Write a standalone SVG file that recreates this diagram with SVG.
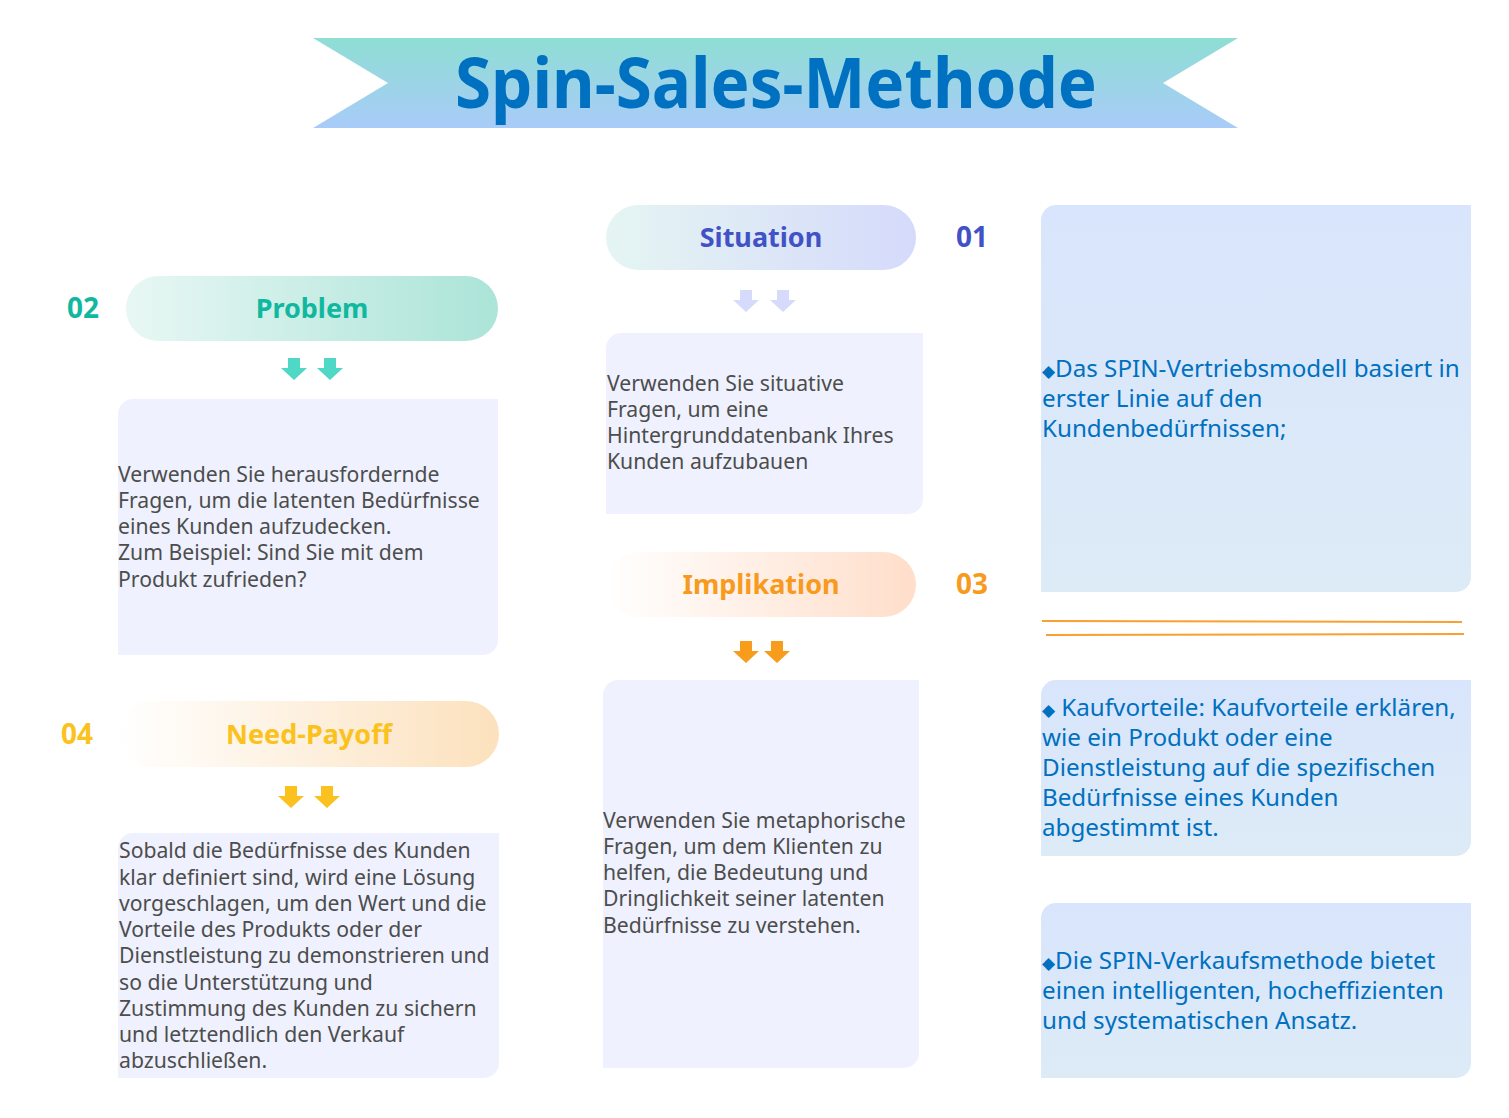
<svg xmlns="http://www.w3.org/2000/svg" width="1509" height="1118" viewBox="0 0 1509 1118">
<defs>
<linearGradient id="gBanner" x1="0" y1="0" x2="0" y2="1"><stop offset="0" stop-color="#8EDED3"/><stop offset="1" stop-color="#A9CBF9"/></linearGradient>
<linearGradient id="gSit" x1="0" y1="0" x2="1" y2="0"><stop offset="0" stop-color="#E5F5F2"/><stop offset="1" stop-color="#D5DAFB"/></linearGradient>
<linearGradient id="gProb" x1="0" y1="0" x2="1" y2="0"><stop offset="0" stop-color="#E8F7F4"/><stop offset="1" stop-color="#ABE4D8"/></linearGradient>
<linearGradient id="gImp" x1="0" y1="0" x2="1" y2="0"><stop offset="0" stop-color="#FFFFFF"/><stop offset="1" stop-color="#FFDECA"/></linearGradient>
<linearGradient id="gNeed" x1="0" y1="0" x2="1" y2="0"><stop offset="0" stop-color="#FFFFFF"/><stop offset="1" stop-color="#FCE1BD"/></linearGradient>
<linearGradient id="gRight" x1="0" y1="0" x2="0" y2="1"><stop offset="0" stop-color="#D8E5FC"/><stop offset="1" stop-color="#DDEBF7"/></linearGradient>
<path id="arrow" d="M-6 0 H6 V10 H13 L0 22 L-13 10 H-6 Z"/>
</defs>
<style>
.title{font-family:"Noto Sans","Open Sans",sans-serif;font-weight:700;font-size:70px;fill:#0070C0}
.pill{font-family:"Noto Sans","Open Sans",sans-serif;font-weight:700;font-size:27px;text-anchor:middle}
.num{font-family:"Noto Sans","Open Sans",sans-serif;font-weight:700;font-size:28px}
.body{font-family:"Noto Sans","Open Sans",sans-serif;font-size:21.2px;fill:#4D4D4D}
.rbody{font-family:"Noto Sans","Open Sans",sans-serif;font-size:24.2px;fill:#0070C0}
.box{fill:#EFF2FE}
.rbox{fill:url(#gRight)}
.dia{font-size:17px}
</style>
<rect width="1509" height="1118" fill="#FFFFFF"/>

<g id="title">
<polygon points="313,38 1238,38 1163,83 1238,128 313,128 388,83" fill="url(#gBanner)"/>
<text class="title" x="776" y="108" text-anchor="middle" textLength="642" lengthAdjust="spacingAndGlyphs">Spin-Sales-Methode</text>
</g>

<g id="situation">
<rect x="606" y="205" width="310" height="65" rx="32.5" fill="url(#gSit)"/>
<text class="pill" x="761" y="247" fill="#4152C6">Situation</text>
<text class="num" x="956" y="247" fill="#4152C6">01</text>
</g>
<g id="situation-text">
<path class="box" d="M621 333 H923 V499 A15 15 0 0 1 908 514 H606 V348 A15 15 0 0 1 621 333 Z"/>
<text class="body" x="607" y="391">Verwenden Sie situative</text>
<text class="body" x="607" y="417">Fragen, um eine</text>
<text class="body" x="607" y="443">Hintergrunddatenbank Ihres</text>
<text class="body" x="607" y="469">Kunden aufzubauen</text>
</g>

<g id="problem">
<rect x="126" y="276" width="372" height="65" rx="32.5" fill="url(#gProb)"/>
<text class="pill" x="312" y="318" fill="#10B89F">Problem</text>
<text class="num" x="67" y="318" fill="#10B89F">02</text>
</g>
<g id="problem-text">
<path class="box" d="M133 399 H498 V640 A15 15 0 0 1 483 655 H118 V414 A15 15 0 0 1 133 399 Z"/>
<text class="body" x="118" y="482">Verwenden Sie herausfordernde</text>
<text class="body" x="118" y="508">Fragen, um die latenten Bedürfnisse</text>
<text class="body" x="118" y="534">eines Kunden aufzudecken.</text>
<text class="body" x="118" y="560">Zum Beispiel: Sind Sie mit dem</text>
<text class="body" x="118" y="587">Produkt zufrieden?</text>
</g>

<g id="implikation">
<rect x="606" y="552" width="310" height="65" rx="32.5" fill="url(#gImp)"/>
<text class="pill" x="761" y="594" fill="#F79A1E">Implikation</text>
<text class="num" x="956" y="594" fill="#F79A1E">03</text>
</g>
<g id="implikation-text">
<path class="box" d="M618 680 H919 V1053 A15 15 0 0 1 904 1068 H603 V695 A15 15 0 0 1 618 680 Z"/>
<text class="body" x="603" y="828">Verwenden Sie metaphorische</text>
<text class="body" x="603" y="854">Fragen, um dem Klienten zu</text>
<text class="body" x="603" y="880">helfen, die Bedeutung und</text>
<text class="body" x="603" y="906">Dringlichkeit seiner latenten</text>
<text class="body" x="603" y="933">Bedürfnisse zu verstehen.</text>
</g>

<g id="need-payoff">
<rect x="118" y="701" width="381" height="66" rx="33" fill="url(#gNeed)"/>
<text class="pill" x="309" y="744" fill="#FBC21E">Need-Payoff</text>
<text class="num" x="61" y="744" fill="#FBC21E">04</text>
</g>
<g id="need-payoff-text">
<path class="box" d="M133 833 H499 V1063 A15 15 0 0 1 484 1078 H118 V848 A15 15 0 0 1 133 833 Z"/>
<text class="body" x="119" y="858">Sobald die Bedürfnisse des Kunden</text>
<text class="body" x="119" y="885">klar definiert sind, wird eine Lösung</text>
<text class="body" x="119" y="911">vorgeschlagen, um den Wert und die</text>
<text class="body" x="119" y="937">Vorteile des Produkts oder der</text>
<text class="body" x="119" y="963">Dienstleistung zu demonstrieren und</text>
<text class="body" x="119" y="990">so die Unterstützung und</text>
<text class="body" x="119" y="1016">Zustimmung des Kunden zu sichern</text>
<text class="body" x="119" y="1042">und letztendlich den Verkauf</text>
<text class="body" x="119" y="1068">abzuschließen.</text>
</g>

<g id="note-1">
<path class="rbox" d="M1056 205 H1471 V577 A15 15 0 0 1 1456 592 H1041 V220 A15 15 0 0 1 1056 205 Z"/>
<text class="rbody" x="1042" y="377"><tspan class="dia">◆</tspan>Das SPIN-Vertriebsmodell basiert in</text>
<text class="rbody" x="1042" y="407">erster Linie auf den</text>
<text class="rbody" x="1042" y="437">Kundenbedürfnissen;</text>
</g>

<g id="note-2">
<path class="rbox" d="M1056 680 H1471 V841 A15 15 0 0 1 1456 856 H1041 V695 A15 15 0 0 1 1056 680 Z"/>
<text class="rbody" x="1042" y="716"><tspan class="dia">◆</tspan> Kaufvorteile: Kaufvorteile erklären,</text>
<text class="rbody" x="1042" y="746">wie ein Produkt oder eine</text>
<text class="rbody" x="1042" y="776">Dienstleistung auf die spezifischen</text>
<text class="rbody" x="1042" y="806">Bedürfnisse eines Kunden</text>
<text class="rbody" x="1042" y="836">abgestimmt ist.</text>
</g>

<g id="note-3">
<path class="rbox" d="M1056 903 H1471 V1063 A15 15 0 0 1 1456 1078 H1041 V918 A15 15 0 0 1 1056 903 Z"/>
<text class="rbody" x="1042" y="969"><tspan class="dia">◆</tspan>Die SPIN-Verkaufsmethode bietet</text>
<text class="rbody" x="1042" y="999">einen intelligenten, hocheffizienten</text>
<text class="rbody" x="1042" y="1029">und systematischen Ansatz.</text>
</g>

<g id="connectors">
<use href="#arrow" x="746" y="290" fill="#D6DBFB"/>
<use href="#arrow" x="783" y="290" fill="#D6DBFB"/>
<use href="#arrow" x="294" y="358" fill="#4FD8C5"/>
<use href="#arrow" x="330" y="358" fill="#4FD8C5"/>
<use href="#arrow" x="746" y="641" fill="#F89C1C"/>
<use href="#arrow" x="777" y="641" fill="#F89C1C"/>
<use href="#arrow" x="291" y="786" fill="#FBC11F"/>
<use href="#arrow" x="327" y="786" fill="#FBC11F"/>
<line x1="1042" y1="621" x2="1462" y2="622" stroke="#F8A030" stroke-width="2"/>
<line x1="1046" y1="635" x2="1464" y2="634" stroke="#F8A030" stroke-width="2"/>
</g>
</svg>
